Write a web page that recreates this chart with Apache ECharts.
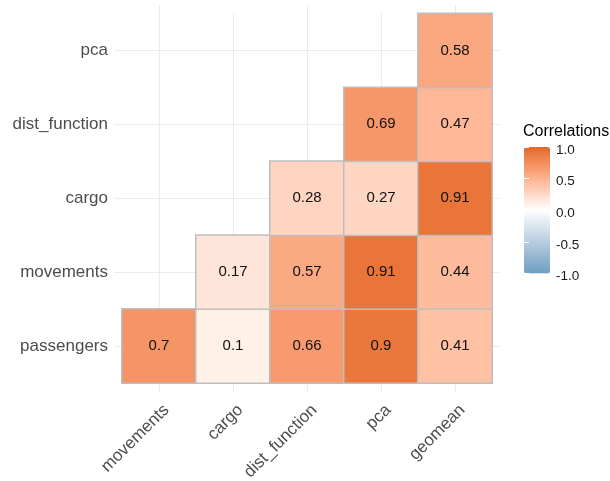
<!DOCTYPE html>
<html><head><meta charset="utf-8">
<script src="https://cdn.jsdelivr.net/npm/echarts@6/dist/echarts.min.js"></script>
<style>html,body{margin:0;padding:0;background:#fff}#c{width:610px;height:481px}</style>
</head><body><div id="c"></div>
<script>
// ---- data ----
const xCategories = ['movements', 'cargo', 'dist_function', 'pca', 'geomean'];
const yCategories = ['passengers', 'movements', 'cargo', 'dist_function', 'pca'];
const rowPassengers   = [0.7,  0.1,  0.66, 0.9,  0.41];
const rowMovements    = [null, 0.17, 0.57, 0.91, 0.44];
const rowCargo        = [null, null, 0.28, 0.27, 0.91];
const rowDistFunction = [null, null, null, 0.69, 0.47];
const rowPca          = [null, null, null, null, 0.58];
const legendMin = -1, legendMax = 1, legendStep = 0.5;
const legendTitle = 'Correlations';

// ---- colours (Lab interpolation like ggplot's scale_fill_gradient2) ----
const colorLow = '#6D9EC1', colorMid = '#FFFFFF', colorHigh = '#E46726';
function hex2rgb(h){h=h.replace('#','');return [0,2,4].map(i=>parseInt(h.substr(i,2),16)/255);}
function lin(c){return c<=0.04045?c/12.92:Math.pow((c+0.055)/1.055,2.4);}
function delin(c){return c<=0.0031308?12.92*c:1.055*Math.pow(c,1/2.4)-0.055;}
const Xn=0.95047,Yn=1,Zn=1.08883;
function f(t){return t>216/24389?Math.cbrt(t):(24389/27*t+16)/116;}
function finv(t){const t3=t*t*t;return t3>216/24389?t3:(116*t-16)/(24389/27);}
function rgb2lab(rgb){const [r,g,b]=rgb.map(lin);
  const X=0.4124564*r+0.3575761*g+0.1804375*b, Y=0.2126729*r+0.7151522*g+0.0721750*b, Z=0.0193339*r+0.1191920*g+0.9503041*b;
  const fx=f(X/Xn),fy=f(Y/Yn),fz=f(Z/Zn);return [116*fy-16,500*(fx-fy),200*(fy-fz)];}
function lab2hex(lab){const fy=(lab[0]+16)/116,fx=fy+lab[1]/500,fz=fy-lab[2]/200;
  const X=Xn*finv(fx),Y=Yn*finv(fy),Z=Zn*finv(fz);
  const r=3.2404542*X-1.5371385*Y-0.4985314*Z, g=-0.9692660*X+1.8760108*Y+0.0415560*Z, b=0.0556434*X-0.2040259*Y+1.0572252*Z;
  return '#'+[r,g,b].map(c=>{c=Math.round(Math.min(1,Math.max(0,delin(c)))*255);return c.toString(16).padStart(2,'0');}).join('');}
const labLow=rgb2lab(hex2rgb(colorLow)), labMid=rgb2lab(hex2rgb(colorMid)), labHigh=rgb2lab(hex2rgb(colorHigh));
const stops=[];
for(let i=0;i<=40;i++){const v=-1+i/20;const t=Math.abs(v);const tg=v<0?labLow:labHigh;
  stops.push(lab2hex(labMid.map((m,k)=>m+(tg[k]-m)*t)));}

// ---- build heatmap data ----
const rows = [rowPassengers, rowMovements, rowCargo, rowDistFunction, rowPca];
const cells = [];
rows.forEach((row, yi) => row.forEach((v, xi) => { if (v !== null) cells.push([xi, yi, v]); }));

const FONT = "'Liberation Sans', Arial, sans-serif";
const gridLine = {color:'#EBEBEB', width:1};
const tickExt = {show:true, alignWithLabel:true, length:8, lineStyle:gridLine};
const whiteTick = {show:true, inside:true, length:5, lineStyle:{color:'#ffffff', width:1}};

const chart = echarts.init(document.getElementById('c'));
chart.setOption({
  animation:false,
  backgroundColor:'#ffffff',
  textStyle:{fontFamily:FONT},
  title:{text:legendTitle, left:523, top:124, padding:0,
    textStyle:{fontSize:16, fontWeight:'normal', color:'#000', fontFamily:FONT}},
  grid:[
    {left:122, right:118, top:13.5, bottom:98, outerBoundsMode:'none', containLabel:false},
    {left:524, top:147, width:26, height:126.5, outerBoundsMode:'none', containLabel:false},
    {left:524, top:150, width:26, height:126.5, outerBoundsMode:'none', containLabel:false}
  ],
  xAxis:[
    {type:'category', gridIndex:0, position:'bottom', data:xCategories,
      axisLine:{show:false}, axisTick:tickExt,
      splitLine:{show:true, alignWithLabel:true, lineStyle:gridLine},
      axisLabel:{interval:0, rotate:45, align:'right', verticalAlign:'top', margin:17, padding:[2,0,0,0],
        fontSize:17, color:'#4D4D4D', fontFamily:FONT}},
    {type:'category', gridIndex:0, position:'top', data:xCategories,
      axisLine:{show:false}, axisTick:tickExt, axisLabel:{show:false}, splitLine:{show:false}},
    {type:'value', gridIndex:1, show:false, min:0, max:1},
    {type:'value', gridIndex:2, show:false, min:0, max:1}
  ],
  yAxis:[
    {type:'category', gridIndex:0, position:'left', data:yCategories,
      axisLine:{show:false}, axisTick:tickExt,
      splitLine:{show:true, alignWithLabel:true, lineStyle:gridLine},
      axisLabel:{interval:0, margin:14, fontSize:17, color:'#4D4D4D', fontFamily:FONT}},
    {type:'category', gridIndex:0, position:'right', data:yCategories,
      axisLine:{show:false}, axisTick:tickExt, axisLabel:{show:false}, splitLine:{show:false}},
    {type:'value', gridIndex:1, position:'right', min:legendMin, max:legendMax, interval:legendStep, z:10,
      axisLine:{show:false}, splitLine:{show:false}, axisLabel:{show:false}, axisTick:whiteTick},
    {type:'value', gridIndex:1, position:'left', min:legendMin, max:legendMax, interval:legendStep, z:10,
      axisLine:{show:false}, splitLine:{show:false}, axisLabel:{show:false}, axisTick:whiteTick},
    {type:'value', gridIndex:2, position:'right', min:legendMin, max:legendMax, interval:legendStep,
      axisLine:{show:false}, splitLine:{show:false}, axisTick:{show:false},
      axisLabel:{formatter:v=>v.toFixed(1), margin:6, fontSize:13.5, color:'#1A1A1A', fontFamily:FONT}}
  ],
  visualMap:{type:'continuous', min:legendMin, max:legendMax, seriesIndex:0, calculable:false, hoverLink:false,
    orient:'vertical', left:524, top:147, itemWidth:26, itemHeight:126.5, padding:0, text:null, showLabel:false,
    inRange:{color:stops}},
  series:[{
    type:'heatmap', xAxisIndex:0, yAxisIndex:0, data:cells,
    label:{show:true, formatter:p=>String(p.value[2]), fontSize:15, color:'#111', fontFamily:FONT},
    itemStyle:{borderColor:'#BEBEBE', borderWidth:1.5},
    emphasis:{disabled:true}
  }]
});
</script></body></html>
